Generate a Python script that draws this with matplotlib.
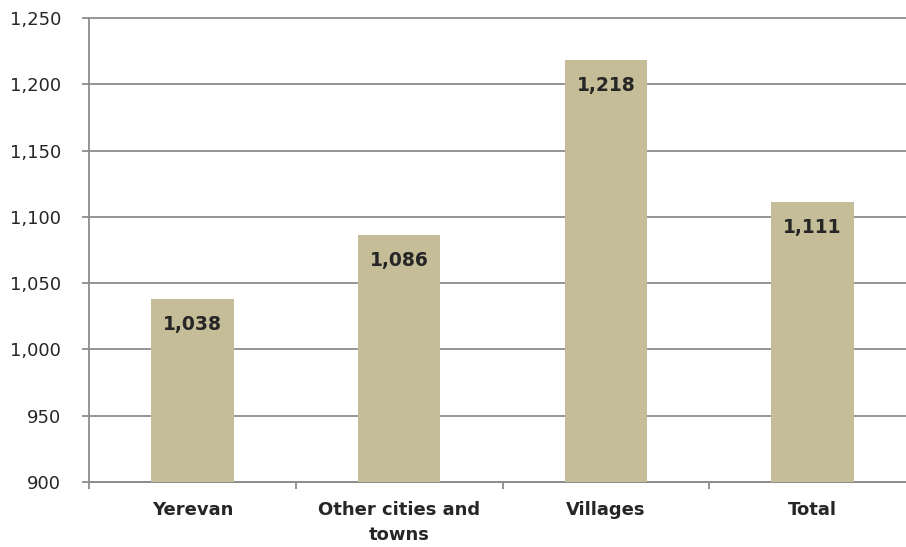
import matplotlib.pyplot as plt
import numpy as np
from matplotlib.ticker import FuncFormatter, FixedLocator

categories = ['Yerevan', 'Other cities and\ntowns', 'Villages', 'Total']
values = [1038, 1086, 1218, 1111]

bar_color = '#C4BD97'
grid_color = '#8C8C8C'
text_color = '#262626'

fig = plt.figure(figsize=(9.06, 5.47), dpi=100)
ax = fig.add_axes([89 / 906, 65 / 547, 827 / 906, 464 / 547])

x = np.arange(len(categories))
ax.bar(x, values, width=0.4, color=bar_color, zorder=3)

for xi, v in zip(x, values):
    ax.annotate(f'{v:,}', (xi, v), xytext=(0, -18), textcoords='offset points',
                ha='center', va='center', fontsize=13.5, fontweight='bold',
                color=text_color, zorder=4)

ax.set_ylim(900, 1250)
ax.set_xlim(-0.5, len(categories) - 0.5)
ax.set_yticks(np.arange(900, 1251, 50))
ax.yaxis.set_major_formatter(FuncFormatter(lambda v, p: f'{int(v):,}'))
ax.yaxis.grid(True, color=grid_color, linewidth=1.3, zorder=0)
for gl in ax.get_ygridlines():
    gl.set_clip_on(False)

# category boundaries carry the ticks, labels sit at the centres
ax.xaxis.set_major_locator(FixedLocator(np.arange(-0.5, len(categories), 1.0)))
ax.xaxis.set_major_formatter(FuncFormatter(lambda v, p: ''))
ax.xaxis.set_minor_locator(FixedLocator(x))
ax.set_xticklabels(categories, minor=True, fontsize=13, fontweight='bold',
                   color=text_color, linespacing=1.5)
ax.tick_params(axis='x', which='minor', length=0, pad=14)
ax.tick_params(axis='x', which='major', length=5, width=1.3, color=grid_color)
ax.tick_params(axis='y', length=5, width=1.3, color=grid_color, pad=15,
               labelsize=13, labelcolor=text_color)

for side in ['top', 'right']:
    ax.spines[side].set_visible(False)
for side in ['left', 'bottom']:
    ax.spines[side].set_color(grid_color)
    ax.spines[side].set_linewidth(1.3)

fig.savefig('out.png', dpi=100)
